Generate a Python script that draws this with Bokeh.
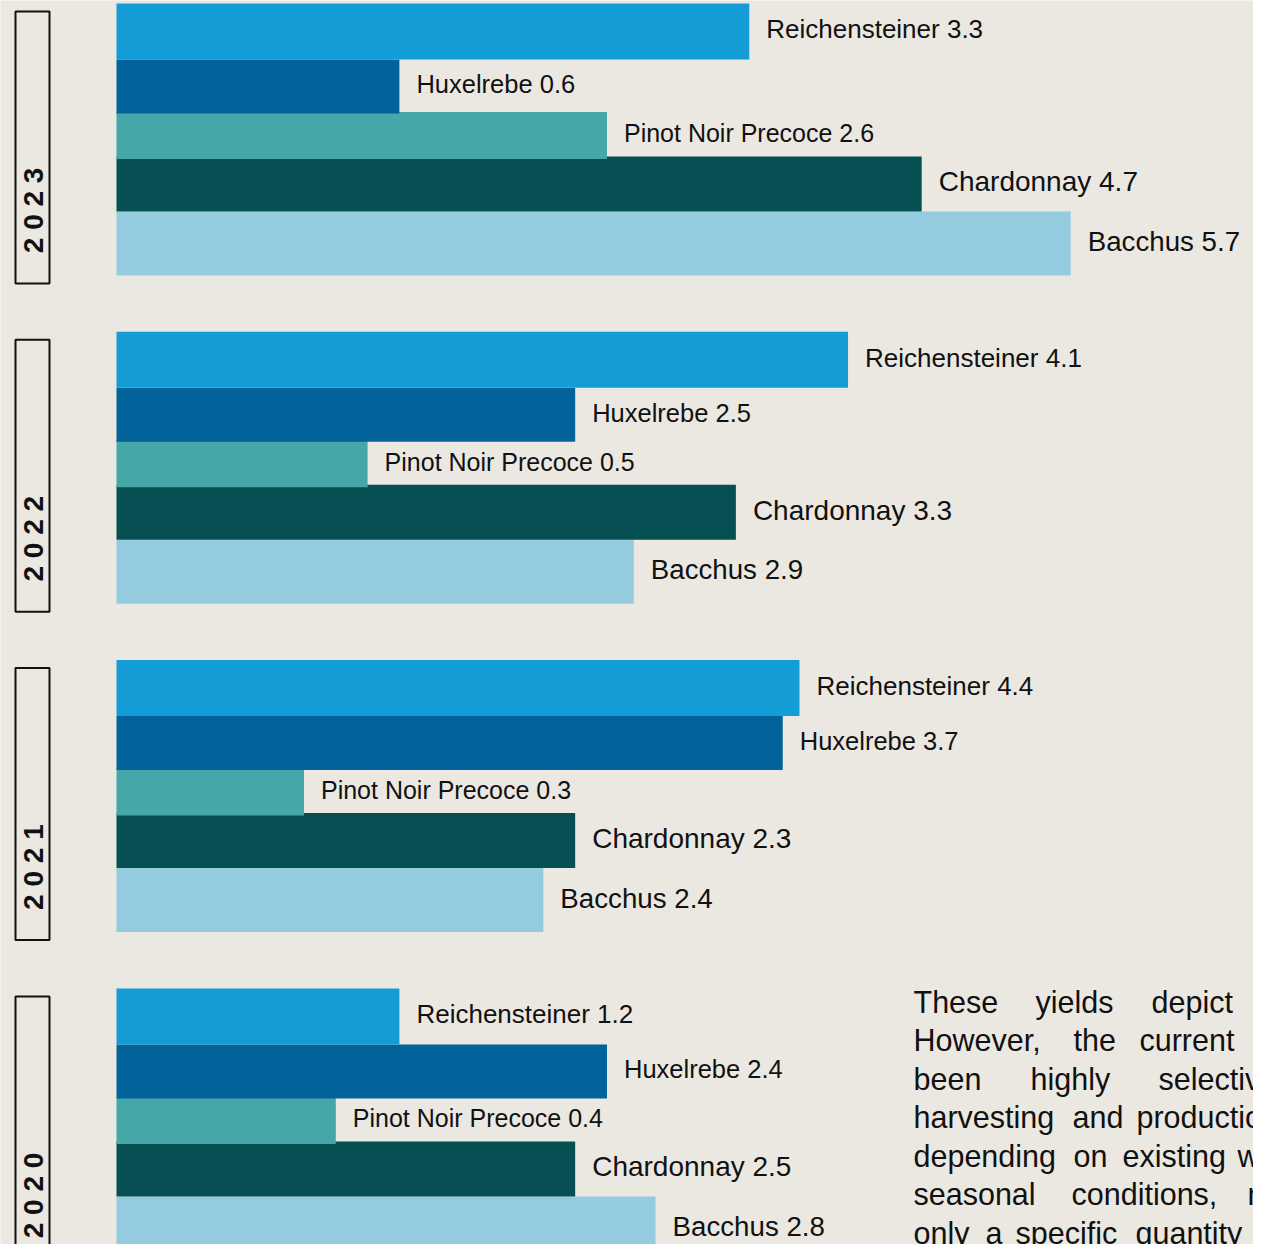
from bokeh.plotting import figure
from bokeh.models import ColumnDataSource, Range1d
from bokeh.transform import dodge
from bokeh.core.properties import value
from bokeh.embed import file_html
from bokeh.resources import INLINE
import math

# ---------------- data ----------------
years = [2023, 2022, 2021, 2020]
varieties = ["Reichensteiner", "Huxelrebe", "Pinot Noir Precoce", "Chardonnay", "Bacchus"]

# yields shown in the labels
yield_reich = [3.3, 4.1, 4.4, 1.2]
yield_hux = [0.6, 2.5, 3.7, 2.4]
yield_pinot = [2.6, 0.5, 0.3, 0.4]
yield_chard = [4.7, 3.3, 2.3, 2.5]
yield_bacchus = [5.7, 2.9, 2.4, 2.8]

# bar lengths as drawn (same axis units)
bar_reich = [3.78, 4.37, 4.08, 1.69]
bar_hux = [1.69, 2.74, 3.98, 2.93]
bar_pinot = [2.93, 1.50, 1.12, 1.31]
bar_chard = [4.81, 3.70, 2.74, 2.74]
bar_bacchus = [5.70, 3.09, 2.55, 3.22]

note_lines = [
    ["These", "yields", "depict"],
    ["However,", "the", "current", "r"],
    ["been", "highly", "selective"],
    ["harvesting", "and", "production"],
    ["depending", "on", "existing", "wi"],
    ["seasonal", "conditions,", "m"],
    ["only", "a", "specific", "quantity", "a"],
]

# ---------------- styles / layout ----------------
BG = "#EBE8E2"
FONT = "Liberation Sans"
S = 167.4          # px per x unit
PXY = 328.35       # px per year
W, H = 1253, 1244

styles = {
    "Reichensteiner":     dict(color="#149CD6", off=-108, h=56, fs="26px"),
    "Huxelrebe":          dict(color="#02639A", off=-53, h=54, fs="25.5px"),
    "Pinot Noir Precoce": dict(color="#45A7A8", off=-4, h=47, fs="25px"),
    "Chardonnay":         dict(color="#064F52", off=44.5, h=55, fs="28px"),
    "Bacchus":            dict(color="#94CBDE", off=104, h=64, fs="27.7px"),
}
series = {
    "Reichensteiner": (bar_reich, yield_reich),
    "Huxelrebe": (bar_hux, yield_hux),
    "Pinot Noir Precoce": (bar_pinot, yield_pinot),
    "Chardonnay": (bar_chard, yield_chard),
    "Bacchus": (bar_bacchus, yield_bacchus),
}

# canvas pixel -> data helpers (for annotations only)
X0 = 116.0
def xd(px):
    return (px - X0) / S

YC = 631.4
def yd(px):
    return 2021.5 - (px - YC) / PXY

p = figure(width=W, height=H, output_backend="svg", toolbar_location=None,
           x_range=Range1d(xd(0), xd(W)), y_range=Range1d(yd(H), yd(0)),
           x_axis_location=None, y_axis_location=None, min_border=0)
p.grid.visible = False
p.outline_line_color = None
p.background_fill_color = BG
p.border_fill_color = BG

# bars (draw bottom variety first so upper ones overlap)
for name in reversed(varieties):
    lens, ylds = series[name]
    st = styles[name]
    src = ColumnDataSource(dict(year=years, length=lens,
                                label=[f"{name} {v}" for v in ylds]))
    p.hbar(y=dodge("year", -st["off"] / PXY), left=0, right="length",
           height=st["h"] / PXY, source=src, fill_color=st["color"],
           line_color=None)
    p.text(x="length", y=dodge("year", -st["off"] / PXY), text="label", source=src,
           x_offset=17, y_offset=-2, text_font=value(FONT), text_font_size=st["fs"],
           text_color="#111111", text_align="left", text_baseline="middle")

# year boxes and rotated year labels
ysrc = ColumnDataSource(dict(year=years, label=[" ".join(str(y)) for y in years]))
p.rect(x=xd(32), y=dodge("year", -8 / PXY), width=34 / S, height=272 / PXY,
       source=ysrc, fill_color=None, line_color="#111111", line_width=2)
p.text(x=xd(33), y=dodge("year", -71 / PXY), text="label", source=ysrc,
       angle=math.pi / 2, text_font=value(FONT), text_font_size="28px",
       text_font_style="bold", text_color="#111111", text_align="center",
       text_baseline="middle")

# justified note text (word positions in reference px)
word_x = [
    [913, 1035, 1151],
    [913, 1073, 1139, 1265],
    [913, 1030, 1158],
    [913, 1072, 1136],
    [913, 1073, 1122, 1237],
    [913, 1071, 1247],
    [913, 985, 1015, 1135, 1253],
]
xs, ys, ws = [], [], []
for i, (words, pos) in enumerate(zip(note_lines, word_x)):
    mid = 1001 + 38.5 * i
    for w, x in zip(words, pos):
        xs.append(xd(x)); ys.append(yd(mid)); ws.append(w)
p.text(x=xs, y=ys, text=ws, text_font=value(FONT), text_font_size="30.5px",
       text_color="#111111", text_align="left", text_baseline="middle")

open("out.html", "w").write(file_html(p, INLINE))
